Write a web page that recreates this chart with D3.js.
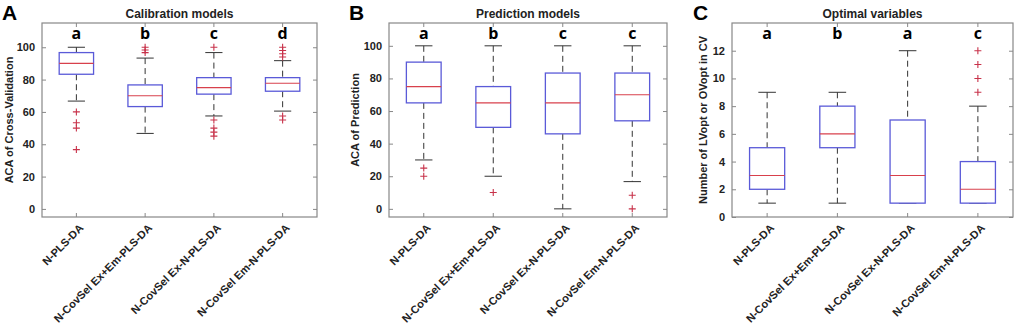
<!DOCTYPE html>
<html>
<head>
<meta charset="utf-8">
<script src="https://cdn.jsdelivr.net/npm/d3@7"></script>
<style>
  body { margin: 0; background: #fff; }
  svg { font-family: "Liberation Sans", Arial, sans-serif; }
</style>
</head>
<body>
<svg id="chart" width="1017" height="328"></svg>
<script>
// model names (x axis categories)
const models = ["N-PLS-DA", "N-CovSel Ex+Em-PLS-DA", "N-CovSel Ex-N-PLS-DA", "N-CovSel Em-N-PLS-DA"];

// box stats per model: [lower whisker, Q1, median, Q3, upper whisker]
const calibBoxes = [[66.7, 83.3, 90, 96.7, 100], [46.7, 63.3, 70, 76.7, 93.3], [57.5, 71, 75, 81.2, 96.7], [60.5, 72.8, 77.7, 81.2, 91.7]];
const calibOutliers = [[60, 53.3, 50, 36.7], [100, 98.3, 96.7], [100, 55, 50, 47.5, 45], [100, 98, 96, 94, 57.5, 55]];
const calibLetters = ["a", "b", "c", "d"];

const predBoxes = [[30, 65, 75, 90, 100], [20, 50, 65, 75, 100], [0, 46, 65, 83.3, 100], [16.7, 54, 70, 83.3, 100]];
const predOutliers = [[25, 20], [10], [], [8.3, 0]];
const predLetters = ["a", "b", "c", "c"];

const optBoxes = [[1, 2, 3, 5, 9], [1, 5, 6, 8, 9], [1, 1, 3, 7, 12], [1, 1, 2, 4, 8]];
const optOutliers = [[], [], [], [9, 10, 11, 12]];
const optLetters = ["a", "b", "a", "c"];

const accTicks = [0, 20, 40, 60, 80, 100];
const optTicks = [0, 2, 4, 6, 8, 10, 12];

const svg = d3.select("#chart");

function drawPanel(p) {
    const g = svg.append("g");
    const x = d3.scaleBand().domain(models).range([p.left, p.right]).paddingInner(0).paddingOuter(0);
    const y = d3.scaleLinear().domain(p.domain).range([p.bottom, p.top]);
    const bw = x.bandwidth() * 0.5;
    const cx = d => x(d) + x.bandwidth() / 2;

    // axes: ticks drawn inward on all four sides
    g.append("g")
        .attr("transform", `translate(${p.left},0)`)
        .call(d3.axisLeft(y).tickValues(p.ticks).tickSizeInner(-4).tickSizeOuter(0).tickPadding(7))
        .call(a => a.select(".domain").remove())
        .call(a => a.selectAll("line").attr("stroke", "#888"))
        .call(a => a.selectAll("text").attr("font-size", 11).attr("font-weight", "bold").attr("fill", "#222"));
    g.append("g")
        .attr("transform", `translate(${p.right},0)`)
        .call(d3.axisRight(y).tickValues(p.ticks).tickSizeInner(-4).tickSizeOuter(0).tickFormat(""))
        .call(a => a.select(".domain").remove())
        .call(a => a.selectAll("line").attr("stroke", "#888"));
    g.append("g")
        .attr("transform", `translate(0,${p.bottom})`)
        .call(d3.axisBottom(x).tickSizeInner(-4).tickSizeOuter(0).tickFormat(""))
        .call(a => a.select(".domain").remove())
        .call(a => a.selectAll("line").attr("stroke", "#888"));
    g.append("g")
        .attr("transform", `translate(0,${p.top})`)
        .call(d3.axisTop(x).tickSizeInner(-4).tickSizeOuter(0).tickFormat(""))
        .call(a => a.select(".domain").remove())
        .call(a => a.selectAll("line").attr("stroke", "#888"));

    g.append("rect")
        .attr("x", p.left).attr("y", p.top)
        .attr("width", p.right - p.left).attr("height", p.bottom - p.top)
        .attr("fill", "none").attr("stroke", "#888").attr("stroke-width", 1.2);

    // rotated category labels
    g.selectAll("text.xlab")
        .data(models)
        .enter().append("text")
        .attr("class", "xlab")
        .attr("transform", d => `translate(${cx(d) + 5},${p.bottom + 9}) rotate(-45)`)
        .attr("text-anchor", "end")
        .attr("dy", "0.35em")
        .attr("font-size", 11)
        .attr("font-weight", "bold")
        .attr("fill", "#222")
        .text(d => d);

    const boxes = g.selectAll("g.box")
        .data(models.map((m, i) => ({ m, s: p.boxes[i], out: p.outliers[i], letter: p.letters[i] })))
        .enter().append("g").attr("class", "box");

    // whiskers
    boxes.append("line")
        .attr("x1", d => cx(d.m)).attr("x2", d => cx(d.m))
        .attr("y1", d => y(d.s[4])).attr("y2", d => y(d.s[3]))
        .attr("stroke", "#333").attr("stroke-dasharray", "6,4");
    boxes.append("line")
        .attr("x1", d => cx(d.m)).attr("x2", d => cx(d.m))
        .attr("y1", d => y(d.s[1])).attr("y2", d => y(d.s[0]))
        .attr("stroke", "#333").attr("stroke-dasharray", "6,4");
    [0, 4].forEach(k => {
        boxes.append("line")
            .attr("x1", d => cx(d.m) - bw / 4).attr("x2", d => cx(d.m) + bw / 4)
            .attr("y1", d => y(d.s[k])).attr("y2", d => y(d.s[k]))
            .attr("stroke", "#333");
    });

    boxes.append("rect")
        .attr("x", d => cx(d.m) - bw / 2)
        .attr("y", d => y(d.s[3]))
        .attr("width", bw)
        .attr("height", d => y(d.s[1]) - y(d.s[3]))
        .attr("fill", "#fff")
        .attr("stroke", "#5a5ad8").attr("stroke-width", 1.3);
    boxes.append("line")
        .attr("x1", d => cx(d.m) - bw / 2).attr("x2", d => cx(d.m) + bw / 2)
        .attr("y1", d => y(d.s[2])).attr("y2", d => y(d.s[2]))
        .attr("stroke", "#d8404c").attr("stroke-width", 1.1);

    // outliers as red plus marks
    boxes.each(function(d) {
        d3.select(this).selectAll("path.out")
            .data(d.out)
            .enter().append("path")
            .attr("class", "out")
            .attr("d", v => `M${cx(d.m) - 3.5},${y(v)}h7M${cx(d.m)},${y(v) - 3.5}v7`)
            .attr("stroke", "#c8324a").attr("stroke-width", 1.1).attr("fill", "none");
    });

    boxes.append("text")
        .attr("x", d => cx(d.m)).attr("y", p.top + 16)
        .attr("text-anchor", "middle")
        .attr("font-size", 16).attr("font-weight", "bold")
        .attr("font-family", "'Open Sans', sans-serif")
        .text(d => d.letter);

    // titles
    g.append("text")
        .attr("x", (p.left + p.right) / 2).attr("y", 18)
        .attr("text-anchor", "middle")
        .attr("font-size", 12).attr("font-weight", "bold").attr("fill", "#222")
        .text(p.title);
    g.append("text")
        .attr("x", p.labelX).attr("y", 20)
        .attr("font-size", 21).attr("font-weight", "bold")
        .text(p.panel);
    g.append("text")
        .attr("transform", `translate(${p.yLabelX},${(p.top + p.bottom) / 2}) rotate(-90)`)
        .attr("text-anchor", "middle")
        .attr("font-size", 11).attr("font-weight", "bold").attr("fill", "#222")
        .text(p.yLabel);
}

drawPanel({ left: 42, right: 317, top: 23, bottom: 217, domain: [-5, 115], ticks: accTicks,
    boxes: calibBoxes, outliers: calibOutliers, letters: calibLetters,
    title: "Calibration models", panel: "A", labelX: 2, yLabel: "ACA of Cross-Validation", yLabelX: 13 });
drawPanel({ left: 389, right: 667, top: 23, bottom: 217, domain: [-5, 114], ticks: accTicks,
    boxes: predBoxes, outliers: predOutliers, letters: predLetters,
    title: "Prediction models", panel: "B", labelX: 349, yLabel: "ACA of Prediction", yLabelX: 359 });
drawPanel({ left: 732, right: 1013, top: 23, bottom: 217, domain: [0, 14], ticks: optTicks,
    boxes: optBoxes, outliers: optOutliers, letters: optLetters,
    title: "Optimal variables", panel: "C", labelX: 693, yLabel: "Number of LVopt or OVopt in CV", yLabelX: 707 });
</script>
</body>
</html>
